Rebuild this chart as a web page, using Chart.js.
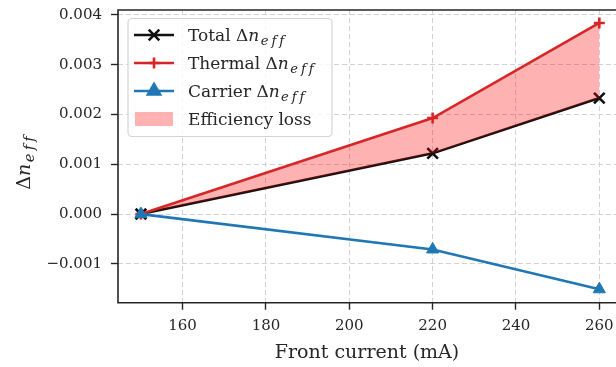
<!DOCTYPE html>
<html>
<head>
<meta charset="utf-8">
<script src="https://cdn.jsdelivr.net/npm/chart.js@4.4.1/dist/chart.umd.min.js"></script>
<style>
html, body { margin: 0; padding: 0; background: #fff; overflow: hidden; }
#chart { display: block; }
</style>
</head>
<body>
<canvas id="chart" width="616" height="367"></canvas>
<script>
const current = [150, 220, 260];
const totalDn = [0, 0.00122, 0.00233];
const thermalDn = [0, 0.00193, 0.00384];
const carrierDn = [0, -0.00071, -0.00151];
const xTicks = [160, 180, 200, 220, 240, 260];
const yTicks = [-0.001, 0, 0.001, 0.002, 0.003, 0.004];
const seriesNames = ['Total', 'Thermal', 'Carrier'];
const fillName = 'Efficiency loss';
const xTitle = 'Front current (mA)';

const serif = '"DejaVu Serif", serif';
const ink = '#262626';
const colors = ['#111111', '#d62728', '#1f77b4'];
const fillColor = 'rgba(255, 0, 0, 0.3)';

function pts(vals) {
    return current.map((c, i) => ({ x: c, y: vals[i] }));
}

// "Δn_eff" with an italic subscript, slightly spread like mathtext
function neff(ctx, prefix, x, y, size, draw) {
    const start = x;
    ctx.font = size + 'px ' + serif;
    if (draw) ctx.fillText(prefix + 'Δ', x, y);
    x += ctx.measureText(prefix + 'Δ').width;
    ctx.font = 'italic ' + size + 'px ' + serif;
    if (draw) ctx.fillText('n', x, y);
    x += ctx.measureText('n').width + size * 0.08;
    const sub = size * 0.78;
    ctx.font = 'italic ' + sub + 'px ' + serif;
    const chars = 'eff';
    for (let k = 0; k < chars.length; k++) {
        if (draw) ctx.fillText(chars[k], x, y + size * 0.22);
        x += ctx.measureText(chars[k]).width + (k < chars.length - 1 ? size * 0.17 : 0);
    }
    return x - start;
}

const decorations = {
    id: 'decorations',
    afterDatasetsDraw(chart) {
        const ctx = chart.ctx;
        const a = chart.chartArea;
        // spines; the right one lies just past the canvas edge
        ctx.save();
        ctx.strokeStyle = ink;
        ctx.lineWidth = 1.6;
        ctx.setLineDash([]);
        ctx.beginPath();
        ctx.moveTo(chart.width, a.bottom);
        ctx.lineTo(a.left, a.bottom);
        ctx.lineTo(a.left, a.top);
        ctx.lineTo(chart.width, a.top);
        ctx.stroke();
        ctx.restore();
    },
    afterDraw(chart) {
        const ctx = chart.ctx;
        const a = chart.chartArea;
        ctx.save();
        ctx.fillStyle = ink;
        ctx.textBaseline = 'alphabetic';

        // y axis title
        const ys = 19;
        const w = neff(ctx, '', 0, 0, ys, false);
        ctx.translate(30, 163);
        ctx.rotate(-Math.PI / 2);
        neff(ctx, '', -w / 2, 0, ys, true);
        ctx.restore();

        // legend
        ctx.save();
        const bx = a.left + 10, by = a.top + 8.5, bw = 204, bh = 118;
        ctx.beginPath();
        ctx.roundRect(bx, by, bw, bh, 4);
        ctx.fillStyle = 'rgba(255,255,255,0.8)';
        ctx.fill();
        ctx.strokeStyle = '#d4d4d4';
        ctx.lineWidth = 1.2;
        ctx.stroke();

        const styles = ['crossRot', 'cross', 'triangle'];
        const radii = [7.5, 5.5, 7];
        const fs = 17;
        for (let i = 0; i < 4; i++) {
            const cy = by + 16.5 + i * 28;
            const x0 = bx + 6, x1 = bx + 46;
            if (i < 3) {
                ctx.strokeStyle = colors[i];
                ctx.lineWidth = 2.6;
                ctx.beginPath();
                ctx.moveTo(x0, cy);
                ctx.lineTo(x1, cy);
                ctx.stroke();
                ctx.fillStyle = colors[i];
                Chart.helpers.drawPoint(ctx, {
                    pointStyle: styles[i], radius: radii[i], borderWidth: 2.6, rotation: 0
                }, (x0 + x1) / 2, cy);
                ctx.fillStyle = ink;
                neff(ctx, seriesNames[i] + ' ', bx + 60, cy + 6, fs, true);
            } else {
                ctx.fillStyle = fillColor;
                ctx.fillRect(x0 + 1, cy - 7, 38, 14);
                ctx.fillStyle = ink;
                ctx.font = fs + 'px ' + serif;
                ctx.fillText(fillName, bx + 60, cy + 6);
            }
        }
        ctx.restore();
    }
};

const gridCfg = {
    color: '#d2d2d2',
    lineWidth: 1,
    tickLength: 7,
    tickColor: ink,
    tickWidth: 1.4,
    tickBorderDash: []
};

function noPad(s) {
    s.paddingTop = 0;
    s.paddingBottom = 0;
    s.paddingLeft = 0;
    s.paddingRight = 0;
}

new Chart(document.getElementById('chart'), {
    type: 'line',
    data: {
        datasets: [{
            label: seriesNames[0],
            data: pts(totalDn),
            borderColor: colors[0],
            backgroundColor: colors[0],
            borderWidth: 2.6,
            pointStyle: 'crossRot',
            pointRadius: 7.5,
            pointBorderWidth: 2.6,
            fill: false,
            order: 3
        }, {
            label: seriesNames[1],
            data: pts(thermalDn),
            borderColor: colors[1],
            backgroundColor: fillColor,
            borderWidth: 2.6,
            pointStyle: 'cross',
            pointRadius: 5.5,
            pointBorderWidth: 2.6,
            pointBackgroundColor: colors[1],
            fill: '-1',
            order: 2
        }, {
            label: seriesNames[2],
            data: pts(carrierDn),
            borderColor: colors[2],
            backgroundColor: colors[2],
            borderWidth: 2.6,
            pointStyle: 'triangle',
            pointRadius: 7,
            pointBorderWidth: 1,
            fill: false,
            order: 1
        }]
    },
    options: {
        responsive: false,
        animation: false,
        devicePixelRatio: 1,
        layout: { autoPadding: false, padding: { top: 10, right: 0, left: 0, bottom: 0 } },
        plugins: {
            legend: { display: false },
            tooltip: { enabled: false }
        },
        scales: {
            x: {
                type: 'linear',
                min: 144.5,
                max: 264.0,
                afterBuildTicks: s => { s.ticks = xTicks.map(v => ({ value: v })); },
                afterFit: s => { s.height = 64.3; noPad(s); },
                grid: gridCfg,
                border: { display: false, dash: [5, 3] },
                ticks: {
                    color: ink,
                    padding: 7,
                    font: { family: serif, size: 15 },
                    maxRotation: 0,
                    callback: v => String(v)
                },
                title: {
                    display: true,
                    text: xTitle,
                    color: ink,
                    font: { family: serif, size: 19 },
                    padding: { top: 0, bottom: 3 }
                }
            },
            y: {
                min: -0.00178,
                max: 0.0041,
                afterBuildTicks: s => { s.ticks = yTicks.map(v => ({ value: v })); },
                afterFit: s => { s.width = 118; noPad(s); },
                grid: gridCfg,
                border: { display: false, dash: [5, 3] },
                ticks: {
                    color: ink,
                    padding: 9,
                    font: { family: serif, size: 15 },
                    callback: v => (v < 0 ? '\u2212' : '') + Math.abs(v).toFixed(3)
                }
            }
        }
    },
    plugins: [decorations]
});
</script>
</body>
</html>
